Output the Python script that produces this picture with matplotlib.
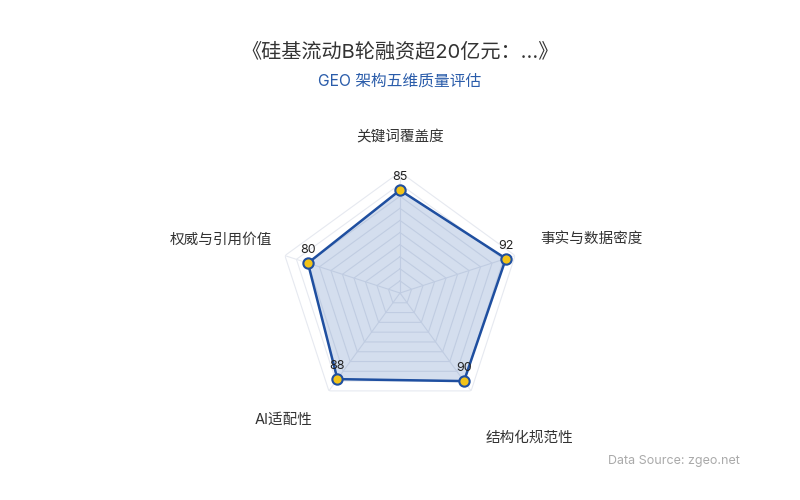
import matplotlib
matplotlib.use('Agg')
import matplotlib.pyplot as plt
import numpy as np

plt.rcParams['font.family'] = ['Inter', 'Noto Sans CJK SC', 'DejaVu Sans']

title = '《硅基流动B轮融资超20亿元：...》'
subtitle = 'GEO 架构五维质量评估'
categories = ['关键词覆盖度', '事实与数据密度', '结构化规范性', 'AI适配性', '权威与引用价值']
scores = [85, 92, 90, 88, 80]
max_score = 100
ring_levels = [10, 20, 30, 40, 50, 60, 70, 80, 90, 100]

line_c = '#1f4fa0'
fill_c = '#2a5caa'
dot_c = '#f2c318'

n = len(categories)
theta = np.linspace(0, 2 * np.pi, n, endpoint=False)
theta_closed = np.append(theta, theta[0])
vals_closed = np.append(scores, scores[0])

fig = plt.figure(figsize=(8, 5), dpi=100)
ax = fig.add_axes([0.34875, 0.172, 0.3025, 0.484], projection='polar')
ax.set_theta_offset(np.pi / 2)
ax.set_theta_direction(-1)
ax.set_ylim(0, max_score)
ax.grid(False)
ax.spines['polar'].set_visible(False)
ax.set_xticks([])
ax.set_yticks([])
ax.patch.set_alpha(0)

# pentagon grid
for lv in ring_levels:
    ax.plot(theta_closed, [lv] * (n + 1), color='#e6e9f0', lw=0.8, zorder=1)
for t in theta:
    ax.plot([t, t], [0, max_score], color='#e6e9f0', lw=0.8, zorder=1)

ax.fill(theta_closed, vals_closed, color=fill_c, alpha=0.2, zorder=2)
ax.plot(theta_closed, vals_closed, color=line_c, lw=1.8, zorder=3)
ax.scatter(theta, scores, s=55, color=dot_c, edgecolor=line_c, linewidth=1.5, zorder=4)

for t, v in zip(theta, scores):
    ax.annotate(str(v), xy=(t, v), xytext=(0, 7), textcoords='offset pixels',
                ha='center', va='bottom', fontsize=9, color='#222222', zorder=5)

# category labels
label_pos = [
    ((0, 35), 'center'),
    ((25, 17), 'left'),
    ((14, -47), 'left'),
    ((-16, -29), 'right'),
    ((-13, 16), 'right'),
]
for t, lab, (off, ha) in zip(theta, categories, label_pos):
    ax.annotate(lab, xy=(t, max_score), xytext=off, textcoords='offset pixels',
                ha=ha, va='center', fontsize=10.5, color='#333333')

fig.text(0.5, 1 - 52 / 500, title, ha='center', va='center', fontsize=14.5, color='#333333')
fig.text(0.5, 1 - 81 / 500, subtitle, ha='center', va='center', fontsize=11.3, color='#2a5caa')
fig.text(740 / 800, 1 - 461 / 500, 'Data Source: zgeo.net', ha='right', va='center',
         fontsize=9, color='#aaaaaa')

fig.savefig('out.png', dpi=100, facecolor='white')
